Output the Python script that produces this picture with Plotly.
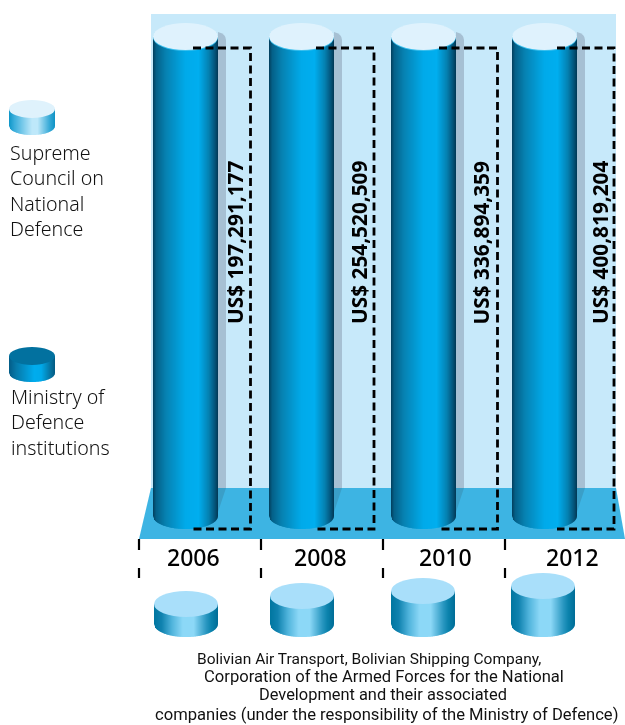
import math
import plotly.graph_objects as go

# Data
years = ["2006", "2008", "2010", "2012"]
ministry_spending_usd = [197291177, 254520509, 336894359, 400819204]
company_relative_size = [1.0, 1.4, 1.65, 1.9]

legend_entries = [
    ["Supreme", "Council on", "National", "Defence"],
    ["Ministry of", "Defence", "institutions"],
]
caption_lines = [
    "Bolivian Air Transport, Bolivian Shipping Company,",
    "Corporation of the Armed Forces for the National",
    "Development and their associated",
    "companies (under the responsibility of the Ministry of Defence)",
]

# Layout of the page, in the axis units (one unit is one screen pixel)
W, H = 625, 725
TALL_LEFT = [153, 269, 391, 512]
SMALL_LEFT = [154, 270, 391, 511]
BOX_LEFT = [193, 316, 439, 557]
BOX_RIGHT = [250.5, 374, 497.5, 614]
LABEL_X = [234.5, 358.5, 480, 599.5]
YEAR_X = [193, 320, 445, 572]
TICK_X = [139, 261, 383, 505]
CAPTION_POS = [(369, 659, 15.5), (383.5, 676, 16.6), (383, 694, 16.4), (386, 714, 16.6)]
LEGEND_POS = [(8, 190.5), (9, 421.8)]
FONT = "Noto Sans"

shapes = []


def lerp_colour(stops, t):
    for (t0, c0), (t1, c1) in zip(stops, stops[1:]):
        if t <= t1:
            f = (t - t0) / (t1 - t0) if t1 > t0 else 0
            rgb = [round(a + (b - a) * f) for a, b in zip(c0, c1)]
            return "rgb(%d,%d,%d)" % tuple(rgb)
    return "rgb(%d,%d,%d)" % tuple(stops[-1][1])


def add_path(d, fill=None, line=None, width=0, dash=None):
    shapes.append(dict(type="path", path=d, xref="x", yref="y",
                       fillcolor=fill or "rgba(0,0,0,0)",
                       line=dict(color=line or "rgba(0,0,0,0)", width=width,
                                 dash=dash or "solid")))


def add_ellipse(cx, cy, rx, ry, fill):
    shapes.append(dict(type="circle", xref="x", yref="y", x0=cx - rx, x1=cx + rx,
                       y0=cy - ry, y1=cy + ry, fillcolor=fill,
                       line=dict(width=0)))


def cylinder(left, width, top_cy, bottom_cy, ry, stops, cap):
    """Body as thin vertical strips following the lower arc, then the top cap."""
    rx = width / 2
    cx = left + rx
    n = int(round(width))
    for i in range(n):
        x0 = left + i
        x1 = min(left + i + 1.6, left + width)
        u0 = max(-1, min(1, (x0 - cx) / rx))
        u1 = max(-1, min(1, (x1 - cx) / rx))
        y0 = bottom_cy + ry * math.sqrt(1 - u0 * u0)
        y1 = bottom_cy + ry * math.sqrt(1 - u1 * u1)
        colour = lerp_colour(stops, (i + 0.5) / n)
        add_path(f"M{x0},{top_cy} L{x1},{top_cy} L{x1},{y1} L{x0},{y0} Z", fill=colour)
    if cap:
        add_ellipse(cx, top_cy, rx, ry, cap)


TALL_STOPS = [(0, (2, 62, 92)), (0.05, (4, 96, 136)), (0.2, (6, 130, 178)),
              (0.5, (0, 170, 234)), (0.7, (0, 174, 239)), (0.86, (4, 128, 176)),
              (0.95, (3, 84, 122)), (1, (2, 56, 84))]
SMALL_STOPS = [(0, (0, 118, 160)), (0.12, (16, 130, 175)), (0.28, (80, 180, 220)),
               (0.45, (140, 216, 247)), (0.62, (140, 216, 247)), (0.82, (40, 150, 192)),
               (0.9, (10, 130, 172)), (1, (0, 108, 150))]
LEGEND_LIGHT = [(0, (14, 150, 200)), (0.12, (60, 175, 220)), (0.5, (190, 232, 250)),
                (0.62, (190, 232, 250)), (0.88, (55, 170, 215)), (1, (14, 146, 196))]
LEGEND_DARK = [(0, (3, 92, 135)), (0.15, (6, 120, 168)), (0.55, (0, 172, 238)),
               (0.7, (0, 170, 234)), (0.9, (6, 116, 162)), (1, (3, 90, 130))]

# Backdrop wall and floor
shapes.append(dict(type="rect", xref="x", yref="y", x0=151, x1=616, y0=14, y1=488,
                   fillcolor="#c7e9fa", line=dict(width=0)))
add_path("M151,488 L616,488 L625,539 L139,539 Z", fill="#3db4e3")

# Tall cylinders with their cast shadows
for left in TALL_LEFT:
    right = left + 65
    add_path(f"M{right},32 Q{right + 8},34 {right + 8},40 L{right + 8},488 L{right},488 Z",
             fill="#a6c0d3")
    add_path(f"M{right},488 L{right + 8},488 L{right},512 Z", fill="#3a9fc8")
    cylinder(left, 65, 37, 516, 13, TALL_STOPS, None)
    cx = left + 32.5
    add_path(f"M{left},37 A32.5,17 0 0 0 {left + 65},37 Z", fill="rgba(1,70,105,0.62)")
    add_ellipse(cx, 37.5, 32.5, 13.5, "#3cc0ee")
    add_ellipse(cx, 36.5, 32.5, 13.5, "#dff2fd")

# Small company cylinders, sharing a common base line
BASE_CY = 624
UNIT_PX = 20
for left, size in zip(SMALL_LEFT, company_relative_size):
    top_cy = BASE_CY - size * UNIT_PX
    cylinder(left, 64, top_cy, BASE_CY, 13, SMALL_STOPS, "#a9dffa")

# Legend swatches
cylinder(9, 46, 109, 126, 9, LEGEND_LIGHT, "#dff2fc")
cylinder(9, 46, 356, 373, 9, LEGEND_DARK, "#02719f")

# Dashed brackets around the value labels
for x0, x1 in zip(BOX_LEFT, BOX_RIGHT):
    add_path(f"M{x0},48 L{x1},48 L{x1},529 L{x0},529", line="#000000", width=2.8,
             dash="8px,4.5px")

# Broken tick marks between the year labels
for x in TICK_X:
    for y0, y1 in ((539, 550), (568, 578)):
        shapes.append(dict(type="line", xref="x", yref="y", x0=x, x1=x, y0=y0, y1=y1,
                           line=dict(color="#000000", width=2.2)))

annotations = []


def text(x, y, s, size, color="#111111", bold=False, angle=0, anchor="center",
         family=FONT, weight=None):
    font = dict(family=family, size=size, color=color)
    if weight:
        font["weight"] = weight
    annotations.append(dict(x=x, y=y, xref="x", yref="y", showarrow=False,
                            text=f"<b>{s}</b>" if bold else s, textangle=angle,
                            xanchor=anchor, yanchor="middle", align="left", font=font))


for x, value in zip(LABEL_X, ministry_spending_usd):
    text(x, 242.5, f"US$ {value:,}", 20.8, color="#000000", bold=True, angle=-90)

for x, year in zip(YEAR_X, years):
    text(x, 557, year, 23, color="#000000", weight=500)

# Each legend entry is one wrapped text block
for (x, y), entry in zip(LEGEND_POS, legend_entries):
    text(x, y, "<br>".join(entry), 19.6, color="#111111", anchor="left", weight=300)

for (x, y, size), line in zip(CAPTION_POS, caption_lines):
    text(x, y, line, size, color="#111111", family="Roboto")

fig = go.Figure()
# An invisible trace anchors the pixel-aligned axes
fig.add_trace(go.Scatter(x=[0, W], y=[0, H], mode="markers", opacity=0, hoverinfo="skip"))
fig.update_layout(
    width=W, height=H, margin=dict(l=0, r=0, t=0, b=0),
    paper_bgcolor="#ffffff", plot_bgcolor="#ffffff", showlegend=False,
    xaxis=dict(range=[0, W], visible=False, fixedrange=True),
    yaxis=dict(range=[H, 0], visible=False, fixedrange=True),
    shapes=shapes, annotations=annotations,
)
fig.write_html("out.html", config=dict(displayModeBar=False))
